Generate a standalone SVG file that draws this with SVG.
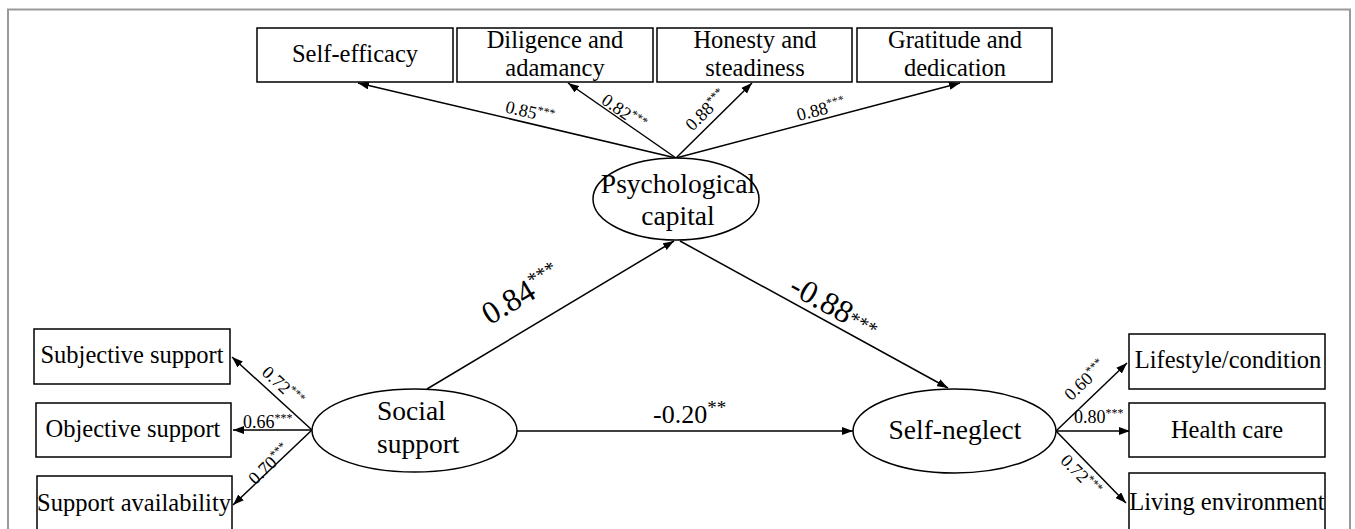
<svg xmlns="http://www.w3.org/2000/svg" width="1355" height="529" viewBox="0 0 1355 529">
<defs>
<marker id="ah" markerWidth="11" markerHeight="8" refX="11" refY="4" orient="auto" markerUnits="userSpaceOnUse"><path d="M0,0 L11,4 L0,8 z" fill="#000"/></marker>
</defs>
<style>
.box{fill:#fff;stroke:#000;stroke-width:1.5}
.ell{fill:#fff;stroke:#000;stroke-width:1.5}
.c{text-anchor:middle}
.bt{font-size:24.5px}
.nt{font-size:27.5px}
.lab{font-size:18px}
.sup{font-size:12px}
.big{font-size:32px}
.bsup{font-size:20px}
.mid{font-size:26px}
.msup{font-size:19px}
#connectors line{stroke:#000;stroke-width:1.5;marker-end:url(#ah)}
</style>
<rect x="0" y="0" width="1355" height="529" fill="#fff"/>
<rect x="8" y="9.5" width="1342" height="540" fill="none" stroke="#9a9a9a" stroke-width="2"/>

<g id="connectors">
<line x1="676" y1="158" x2="358" y2="83"/>
<line x1="676" y1="158" x2="568" y2="83"/>
<line x1="676" y1="158" x2="752" y2="83"/>
<line x1="676" y1="158" x2="960" y2="83"/>
<line x1="427" y1="389" x2="674" y2="241"/>
<line x1="680" y1="241" x2="948" y2="388"/>
<line x1="517" y1="431" x2="853" y2="431"/>
<line x1="312" y1="430" x2="232" y2="357"/>
<line x1="312" y1="430" x2="233" y2="430"/>
<line x1="312" y1="430" x2="233" y2="505"/>
<line x1="1056" y1="431" x2="1127" y2="363"/>
<line x1="1056" y1="431" x2="1130" y2="431"/>
<line x1="1056" y1="431" x2="1126" y2="503"/>
</g>

<g font-family="'Liberation Serif', 'Times New Roman', 'DejaVu Serif', serif" fill="#000">
<g id="connector-labels">
<text class="lab c" transform="translate(530,112) rotate(13.3)" y="6">0.85<tspan class="sup" dy="-6">***</tspan></text>
<text class="lab c" transform="translate(624,112) rotate(34.8)" y="6">0.82<tspan class="sup" dy="-6">***</tspan></text>
<text class="lab c" transform="translate(706,110) rotate(-44.6)" y="6">0.88<tspan class="sup" dy="-6">***</tspan></text>
<text class="lab c" transform="translate(821,109) rotate(-14.8)" y="6">0.88<tspan class="sup" dy="-6">***</tspan></text>
<text class="big c" transform="translate(521,294) rotate(-30.9)" y="11">0.84<tspan class="bsup" dy="-11">***</tspan></text>
<text class="big c" transform="translate(835,306) rotate(28.8)" y="11">-0.88<tspan class="bsup" dy="-2">***</tspan></text>
<text class="mid" x="653" y="423">-0.20<tspan class="msup" dy="-9">**</tspan></text>
<text class="lab c" transform="translate(283,386) rotate(42.4)" y="6">0.72<tspan class="sup" dy="-6">***</tspan></text>
<text class="lab" x="243" y="428">0.66<tspan class="sup" dy="-6">***</tspan></text>
<text class="lab c" transform="translate(269,464) rotate(-43.5)" y="6">0.70<tspan class="sup" dy="-6">***</tspan></text>
<text class="lab c" transform="translate(1085,380) rotate(-43.8)" y="6">0.60<tspan class="sup" dy="-6">***</tspan></text>
<text class="lab" x="1074" y="423">0.80<tspan class="sup" dy="-6">***</tspan></text>
<text class="lab c" transform="translate(1081,475) rotate(45.8)" y="6">0.72<tspan class="sup" dy="-6">***</tspan></text>
</g>

<g id="self-efficacy">
<rect class="box" x="257" y="28" width="196" height="54"/>
<text class="bt c" x="355" y="62">Self-efficacy</text>
</g>
<g id="diligence">
<rect class="box" x="457" y="28" width="196" height="54"/>
<text class="bt c" x="555" y="48">Diligence and</text>
<text class="bt c" x="555" y="76">adamancy</text>
</g>
<g id="honesty">
<rect class="box" x="657" y="28" width="195" height="54"/>
<text class="bt c" x="755" y="48">Honesty and</text>
<text class="bt c" x="755" y="76">steadiness</text>
</g>
<g id="gratitude">
<rect class="box" x="857" y="28" width="195" height="54"/>
<text class="bt c" x="955" y="48">Gratitude and</text>
<text class="bt c" x="955" y="76">dedication</text>
</g>

<g id="psychological-capital">
<ellipse class="ell" cx="676" cy="199" rx="83" ry="41"/>
<text class="nt c" x="678" y="193">Psychological</text>
<text class="nt c" x="678" y="225">capital</text>
</g>

<g id="social-support">
<ellipse class="ell" cx="414.5" cy="430.5" rx="102.5" ry="41.5"/>
<text class="nt" x="377" y="420">Social</text>
<text class="nt" x="377" y="453">support</text>
</g>

<g id="self-neglect">
<ellipse class="ell" cx="954.5" cy="431" rx="101.5" ry="42"/>
<text class="nt c" x="955" y="439">Self-neglect</text>
</g>

<g id="subjective-support">
<rect class="box" x="34" y="329" width="196" height="55"/>
<text class="bt c" x="132" y="363">Subjective support</text>
</g>
<g id="objective-support">
<rect class="box" x="36" y="403" width="195" height="54"/>
<text class="bt c" x="133" y="437">Objective support</text>
</g>
<g id="support-availability">
<rect class="box" x="37" y="476" width="195" height="70"/>
<text class="bt c" x="134" y="511">Support availability</text>
</g>

<g id="lifestyle">
<rect class="box" x="1129" y="334" width="196" height="55"/>
<text class="bt c" x="1228" y="368">Lifestyle/condition</text>
</g>
<g id="health-care">
<rect class="box" x="1129" y="403" width="196" height="54"/>
<text class="bt c" x="1227" y="438">Health care</text>
</g>
<g id="living-environment">
<rect class="box" x="1129" y="473" width="196" height="70"/>
<text class="bt c" x="1227" y="510">Living environment</text>
</g>
</g>
</svg>
